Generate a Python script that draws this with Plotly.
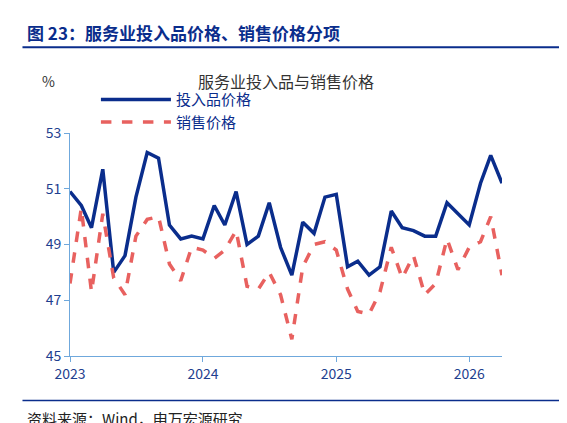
import plotly.graph_objects as go
import pandas as pd

months = pd.date_range("2023-01-01", periods=40, freq="MS")
input_price = [50.9, 50.4, 49.6, 51.7, 48.0, 48.6, 50.7, 52.3, 52.1, 49.7, 49.2, 49.3,
               49.2, 50.4, 49.7, 50.9, 49.0, 49.3, 50.5, 48.9, 47.9, 49.8, 49.4, 50.7,
               50.8, 48.2, 48.4, 47.9, 48.2, 50.2, 49.6, 49.5, 49.3, 49.3, 50.5, 50.1,
               49.7, 51.2, 52.2, 51.2]
sales_price = [47.6, 50.3, 47.3, 50.1, 47.8, 47.2, 49.3, 49.9, 50.0, 48.3, 47.7, 48.9,
               48.8, 48.5, 48.8, 49.5, 47.5, 47.4, 48.0, 47.2, 45.6, 48.2, 49.0, 49.1,
               48.8, 47.4, 46.6, 46.5, 47.3, 48.9, 47.8, 48.6, 47.2, 47.6, 49.2, 48.1,
               48.9, 49.1, 50.0, 47.9]
tick_vals = ["2023-01-01", "2024-01-01", "2025-01-01", "2026-01-01"]
tick_text = ["2023", "2024", "2025", "2026"]
y_ticks = [45, 47, 49, 51, 53]

blue = "#0a2d8c"
red = "#e8615f"
font = "Noto Sans CJK SC"

fig = go.Figure()
fig.add_trace(go.Scatter(x=months, y=input_price, name="投入品价格", mode="lines",
                         line=dict(color=blue, width=3.5)))
fig.add_trace(go.Scatter(x=months, y=sales_price, name="销售价格", mode="lines",
                         line=dict(color=red, width=3.5, dash="dash")))

fig.update_layout(
    width=567, height=423, paper_bgcolor="white", plot_bgcolor="white",
    margin=dict(l=62, r=73, t=125, b=75, autoexpand=False),
    font=dict(family=font, color="#333333", size=14),
    showlegend=True,
    legend=dict(orientation="h", x=0.06, y=1.1, xanchor="left", yanchor="middle",
                font=dict(size=15, color=blue), bgcolor="rgba(0,0,0,0)",
                itemwidth=70, entrywidth=190, entrywidthmode="pixels"),
    xaxis=dict(range=["2023-01-01", "2026-04-01"], tickvals=tick_vals, ticktext=tick_text,
               showgrid=False, showline=True, linecolor="#6fa8dc", ticks="outside",
               tickcolor="#6fa8dc", ticklen=5, tickfont=dict(size=14, color="#1f3f8f")),
    yaxis=dict(range=[45, 53], tickvals=y_ticks, showgrid=False, showline=True,
               linecolor="#6fa8dc", ticks="outside", tickcolor="#6fa8dc", ticklen=5,
               tickfont=dict(size=14, color="#1f3f8f")),
    annotations=[
        dict(text="<b>图 23：服务业投入品价格、销售价格分项</b>", xref="paper", yref="paper",
             x=-0.105, y=1.385, xanchor="left", yanchor="bottom", showarrow=False,
             font=dict(size=17, color=blue)),
        dict(text="服务业投入品与销售价格", xref="paper", yref="paper", x=0.5, y=1.235,
             xanchor="center", yanchor="middle", showarrow=False,
             font=dict(size=16, color="#333333")),
        dict(text="%", xref="paper", yref="paper", x=-0.05, y=1.235, xanchor="center",
             yanchor="middle", showarrow=False, font=dict(size=14, color="#333333")),
        dict(text="资料来源：Wind，申万宏源研究", xref="paper", yref="paper", x=-0.105, y=-0.28,
             xanchor="left", yanchor="middle", showarrow=False, font=dict(size=15, color="#222222")),
    ],
    shapes=[
        dict(type="line", xref="paper", yref="paper", x0=-0.11, x1=1.17, y0=1.385, y1=1.385,
             line=dict(color=blue, width=2)),
        dict(type="line", xref="paper", yref="paper", x0=-0.11, x1=1.17, y0=-0.2, y1=-0.2,
             line=dict(color=blue, width=1.5)),
    ],
)
fig.write_html("out.html")
